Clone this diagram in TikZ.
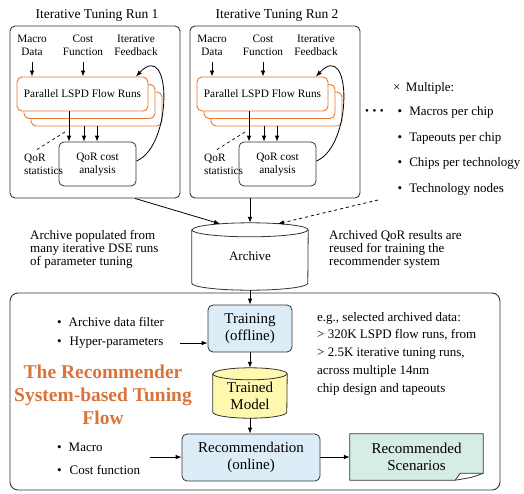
\documentclass[tikz,border=0pt]{standalone}
\usepackage{fontspec}
\setmainfont{Liberation Serif}
\usetikzlibrary{arrows.meta,calc,backgrounds}
\definecolor{lspdorange}{HTML}{E8782E}
\definecolor{titleorange}{HTML}{D9733A}
\definecolor{trainblue}{HTML}{DDEDF8}
\definecolor{modelyellow}{HTML}{FFF9B0}
\definecolor{scengreen}{HTML}{D5ECE7}
\definecolor{edgegray}{HTML}{333333}
\newcommand\fsinner{\fontsize{11.3}{13}\selectfont}
\newcommand\fsmain{\fontsize{13}{12.7}\selectfont}
\newcommand\fsbig{\fontsize{15}{17}\selectfont}
\newcommand\fsruntitle{\fontsize{13.5}{16}\selectfont}
\newcommand\fsorange{\fontsize{19.5}{23}\selectfont\bfseries}
\begin{document}
\begin{tikzpicture}[x=1pt,y=-1pt,
  >={Latex[length=6pt,width=4.6pt]},
  arr/.style={->, line width=0.8pt, draw=black},
  runbox/.style={draw=edgegray, line width=0.9pt, rounded corners=5pt, minimum width=170pt, minimum height=172pt, inner sep=0pt},
  lspdbox/.style={draw=lspdorange, line width=0.9pt, fill=white, rounded corners=5pt, minimum width=131pt, minimum height=34pt, inner sep=0pt, font=\fsinner},
  qorbox/.style={draw=edgegray, line width=0.8pt, rounded corners=5pt, minimum width=77pt, minimum height=44pt, inner sep=0pt, font=\fsinner, align=center},
  lbl/.style={inner sep=0pt, align=center, font=\fsinner},
  txt/.style={inner sep=0pt, align=left, font=\fsmain, anchor=west},
  flowbox/.style={draw=edgegray, line width=0.8pt, fill=trainblue, rounded corners=5pt, font=\fsbig, align=center, inner sep=0pt},
  cyl/.style={draw=edgegray, line width=0.8pt}
]
\useasboundingbox (0,0) rectangle (524,493);

% ---------- iterative tuning runs ----------
\foreach \r/\dx in {1/0,2/180}{
  \node[runbox] (run\r) at (95+\dx,112) {};
  \node[font=\fsruntitle, inner sep=0pt] (title\r) at (97+\dx,15) {Iterative Tuning Run \r};
  \node[lbl] (macro\r) at (32+\dx,45.5) {Macro\\Data};
  \node[lbl] (cost\r) at (83+\dx,45.5) {Cost\\Function};
  \node[lbl] (fb\r) at (136+\dx,45.5) {Iterative\\Feedback};
  \node[lspdbox] (lspdc\r) at (96.5+\dx,109) {};
  \node[lspdbox] (lspdb\r) at (89.5+\dx,101.5) {};
  \node[lspdbox] (lspd\r) at (82.5+\dx,94) {Parallel LSPD Flow Runs};
  \node[qorbox] (qor\r) at (97.5+\dx,164) {QoR cost\\analysis};
  \node[lbl, align=left, anchor=west] (qstat\r) at (24+\dx,164) {QoR\\statistics};
  \draw[arr] ($(macro\r.south)+(0,6)$) -- (macro\r.south |- lspd\r.north);
  \draw[arr] ($(cost\r.south)+(0,6)$) -- (cost\r.south |- lspd\r.north);
  \coordinate (qa\r) at ($(lspd\r.south)+(-13.5,0)$);
  \coordinate (qb\r) at ($(lspdc\r.south)+(-12.5,0)$);
  \coordinate (qc\r) at ($(lspdc\r.south)+(0.5,0)$);
  \draw[arr] (qa\r) -- (qa\r |- qor\r.north);
  \draw[arr] (qb\r) -- (qb\r |- qor\r.north);
  \draw[arr] (qc\r) -- (qc\r |- qor\r.north);
  \coordinate (ds\r) at ($(qstat\r.north west)+(13,-4)$);
  \coordinate (de\r) at (65+\dx,132);
  \draw[dashed, line width=0.7pt] (ds\r) -- (de\r);
  \coordinate (fbend\r) at ($(lspd\r.north)+(53.5,0)$);
  \draw[arr] ($(qor\r.east)+(0,-3)$) .. controls (173+\dx,146) and (172+\dx,38) .. (fbend\r);
}

% ---------- multiples ----------
\node[inner sep=0pt, font=\fontsize{11}{12}\selectfont] (dots) at (374.5,112) {•\hspace{3.5pt}•\hspace{3.5pt}•};
\node[txt] (mult) at (393,88) {×\, Multiple:};
\node[txt] (m1) at (397.5,112) {•\hspace{7pt}Macros per chip};
\node[txt] (m2) at (397.5,138) {•\hspace{7pt}Tapeouts per chip};
\node[txt] (m3) at (397.5,163.5) {•\hspace{7pt}Chips per technology};
\node[txt] (m4) at (397.5,189) {•\hspace{7pt}Technology nodes};

% ---------- archive ----------
\node[inner sep=0pt, minimum width=116pt, minimum height=67pt, font=\fsmain] (archive) at (250,256.5) {Archive};
\draw[cyl] ($(archive.north west)+(0,7)$) -- ($(archive.south west)+(0,-7)$)
  arc[start angle=180,end angle=360,x radius=58pt,y radius=7pt]
  -- ($(archive.north east)+(0,7)$)
  arc[start angle=0,end angle=180,x radius=58pt,y radius=7pt] -- cycle;
\draw[cyl] ($(archive.north west)+(0,7)$) arc[start angle=180,end angle=360,x radius=58pt,y radius=7pt];

\node[txt] (archl) at (30,249.5) {Archive populated from\\many iterative DSE runs\\of parameter tuning};
\node[txt] (archr) at (329,249.5) {Archived QoR results are\\reused for training the\\recommender system};

\coordinate (a1) at ($(run1.south)+(40,0)$);
\coordinate (a1e) at ($(archive.north)+(-30,1)$);
\draw[arr] (a1) -- (a1e);
\draw[arr] (run2.south -| archive.north) -- (archive.north);
\coordinate (dstart) at (378,200);
\coordinate (dend) at ($(archive.north)+(28,1)$);
\draw[arr, dashed] (dstart) -- (dend);

% ---------- recommender flow ----------
\node[draw=edgegray, line width=0.9pt, rounded corners=8pt, minimum width=490pt, minimum height=197pt, inner sep=0pt] (flow) at (255,391.5) {};

\node[flowbox, minimum width=84pt, minimum height=47pt] (train) at (250,328.5) {Training\\(offline)};
\node[inner sep=0pt, minimum width=74pt, minimum height=50pt] (model) at (250,393) {};
\begin{scope}[on background layer]
\draw[cyl, fill=modelyellow] ($(model.north west)+(0,6)$) -- ($(model.south west)+(0,-6)$)
  arc[start angle=180,end angle=360,x radius=37pt,y radius=6pt]
  -- ($(model.north east)+(0,6)$)
  arc[start angle=0,end angle=180,x radius=37pt,y radius=6pt] -- cycle;
\draw[cyl] ($(model.north west)+(0,6)$) arc[start angle=180,end angle=360,x radius=37pt,y radius=6pt];
\end{scope}
\node[inner sep=0pt, font=\fsbig, align=center] (modeltxt) at ($(model.center)+(0,3)$) {Trained\\Model};
\node[flowbox, minimum width=138pt, minimum height=47pt] (rec) at (251,457.5) {Recommendation\\(online)};

\node[inner sep=0pt, minimum width=133pt, minimum height=46pt, font=\fsbig, align=center] (scen) at (416.5,457) {Recommended\\Scenarios};
\begin{scope}[on background layer]
\draw[cyl, fill=scengreen] (scen.north west) -- (scen.north east) -- ($(scen.south east)+(0,-7)$)
  -- ($(scen.south east)+(-23,-7)$) .. controls ($(scen.south east)+(-26,-4)$) .. ($(scen.south east)+(-28,0)$)
  -- (scen.south west) -- cycle;
\draw[cyl] ($(scen.south east)+(0,-7)$) .. controls ($(scen.south east)+(-10,-3)$) .. ($(scen.south east)+(-28,0)$);
\end{scope}

\node[txt] (f1) at (57,322) {•\hspace{7pt}Archive data filter};
\node[txt] (f2) at (57,343) {•\hspace{8pt}Hyper-parameters};
\node[txt] (f3) at (57,447) {•\hspace{7pt}Macro};
\node[txt] (f4) at (57,470) {•\hspace{8pt}Cost function};
\node[inner sep=0pt, align=center, font=\fsorange, text=titleorange] (otitle) at (103,395) {The Recommender\\System-based Tuning\\Flow};
\node[inner sep=0pt, align=left, anchor=west, font=\fontsize{13}{17.7}\selectfont] (eg) at (317,353.5) {e.g., selected archived data:\\> 320K LSPD flow runs, from\\> 2.5K iterative tuning runs,\\across multiple 14nm\\chip design and tapeouts};

\draw[arr] (archive.south) -- (train.north);
\draw[arr] (train.south) -- (model.north);
\draw[arr] (model.south) -- (model.south |- rec.north);
\draw[arr] (rec.east |- scen.west) -- (scen.west);
\coordinate (hp) at (180,343);
\draw[arr] (hp) -- (hp -| train.west);
\coordinate (mc) at (150,457);
\draw[arr] (mc) -- (mc -| rec.west);
\end{tikzpicture}
\end{document}
